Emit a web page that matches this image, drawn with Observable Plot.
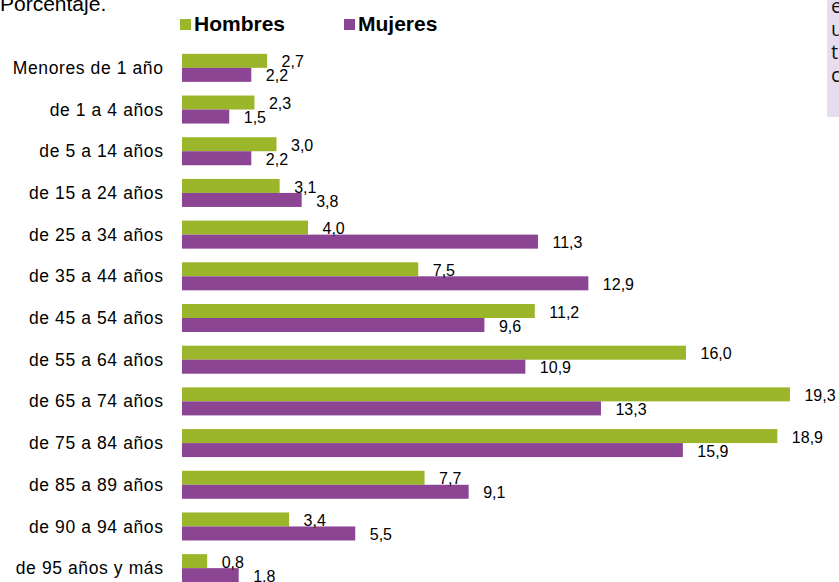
<!DOCTYPE html>
<html>
<head>
<meta charset="utf-8">
<script src="https://cdn.jsdelivr.net/npm/d3@7"></script>
<script src="https://cdn.jsdelivr.net/npm/@observablehq/plot@0.6"></script>
<style>
  html, body { margin: 0; padding: 0; background: #fff; overflow: hidden; width: 839px; height: 582px; }
  body { font-family: "Liberation Sans", Arial, sans-serif; color: #000; position: relative; }
  #header { position: relative; height: 40px; }
  .abs { position: absolute; white-space: nowrap; }
  #title { left: 0; top: -7px; font-size: 21px; line-height: 21px; }
  .sw { position: absolute; width: 11px; height: 11px; top: 19px; }
  .lg { position: absolute; top: 13px; font-size: 21px; line-height: 21px; font-weight: bold; }
  #note { position: absolute; left: 827px; top: 0; width: 12px; height: 117px; background: #e7ddef; overflow: hidden; }
  #note div { padding-left: 4px; font-family: "Open Sans", sans-serif; font-size: 20px; line-height: 23px; position: relative; top: -6px; color: #111; }
  #chart svg { display: block; }
</style>
</head>
<body>
<div id="header">
  <div id="title" class="abs">Porcentaje.</div>
  <div class="sw" id="sw0" style="left:180px"></div>
  <div class="lg" id="lg0" style="left:194px"></div>
  <div class="sw" id="sw1" style="left:344px"></div>
  <div class="lg" id="lg1" style="left:358px"></div>
</div>
<div id="note"><div>e<br>u<br>ti<br>c</div></div>
<div id="chart"></div>
<script>
const ages = ["Menores de 1 año", "de 1 a 4 años", "de 5 a 14 años", "de 15 a 24 años", "de 25 a 34 años", "de 35 a 44 años", "de 45 a 54 años", "de 55 a 64 años", "de 65 a 74 años", "de 75 a 84 años", "de 85 a 89 años", "de 90 a 94 años", "de 95 años y más"];
const sexes = ["Hombres", "Mujeres"];
const hombres = [2.7, 2.3, 3.0, 3.1, 4.0, 7.5, 11.2, 16.0, 19.3, 18.9, 7.7, 3.4, 0.8];
const mujeres = [2.2, 1.5, 2.2, 3.8, 11.3, 12.9, 9.6, 10.9, 13.3, 15.9, 9.1, 5.5, 1.8];
const colors = ["#9bb62a", "#8b4592"];

const data = [];
ages.forEach((a, i) => {
  data.push({age: a, sex: sexes[0], value: hombres[i]});
  data.push({age: a, sex: sexes[1], value: mujeres[i]});
});

sexes.forEach((s, i) => {
  document.getElementById("sw" + i).style.background = colors[i];
  document.getElementById("lg" + i).textContent = s;
});

const fmt = v => v.toFixed(1).replace(".", ",");

const chart = Plot.plot({
  width: 839,
  height: 549,
  marginLeft: 182,
  marginRight: 27,
  marginTop: 7,
  marginBottom: 0,
  style: {fontFamily: "'Liberation Sans', Arial, sans-serif", fontSize: "16px", color: "#000", background: "transparent", overflow: "visible"},
  x: {domain: [0, 20], axis: null},
  y: {domain: sexes, axis: null, paddingInner: 0, paddingOuter: 0.488, round: false},
  fy: {domain: ages, paddingInner: 0, paddingOuter: 0, round: false, axis: "left", tickSize: 0, tickPadding: 19, label: null},
  color: {domain: sexes, range: colors},
  marks: [
    Plot.barX(data, {x: "value", y: "sex", fy: "age", fill: "sex"}),
    Plot.text(data, {x: "value", y: "sex", fy: "age", text: d => fmt(d.value), textAnchor: "start", dx: 14, dy: 1, fontSize: 16, fill: "#000"})
  ]
});
chart.querySelectorAll('[aria-label^="fy-axis"]').forEach(g => {
  g.style.fontSize = "17.5px";
  g.style.letterSpacing = "0.6px";
});
document.getElementById("chart").appendChild(chart);
</script>
</body>
</html>
